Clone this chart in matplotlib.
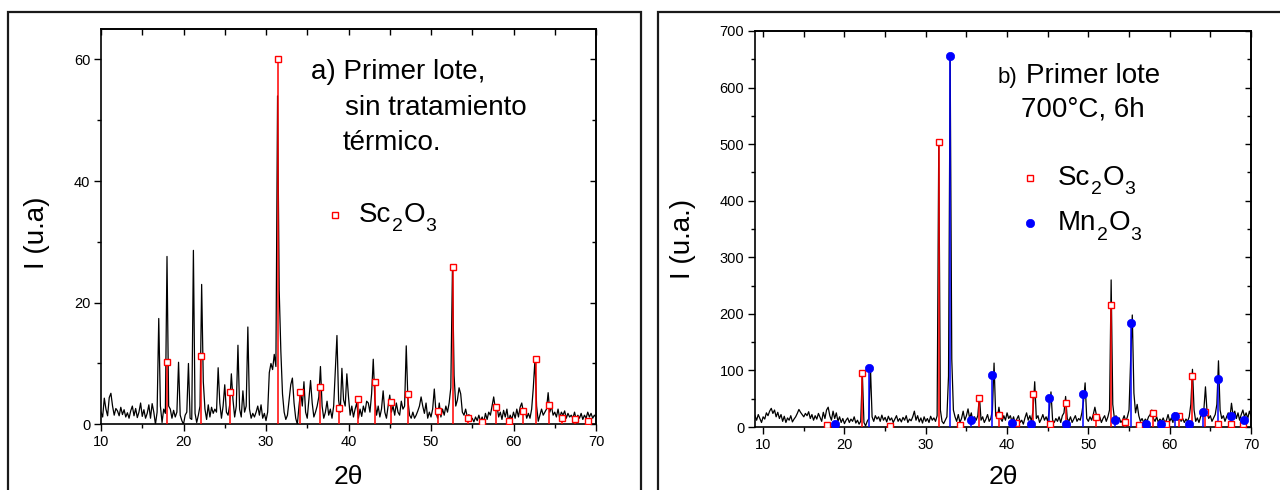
import numpy as np
import matplotlib
matplotlib.use("Agg")
import matplotlib.pyplot as plt
from matplotlib.ticker import MultipleLocator
from matplotlib.lines import Line2D
from matplotlib.patches import Rectangle

plt.rcParams['font.family'] = ['Liberation Sans', 'DejaVu Sans']

# ---------------- data ----------------
# (a) first batch, no heat treatment: diffractogram sampled every 0.2 deg from 10 to 70
a_start, a_step = 10.0, 0.2
a_intensity = [
    2.0, 1.2, 4.3, 2.5, 1.4, 4.4, 5.1, 3.0, 1.5, 2.6,
    2.2, 1.4, 2.8, 1.6, 2.4, 1.2, 1.9, 1.0, 2.2, 3.0,
    1.4, 2.6, 1.1, 2.0, 3.5, 1.3, 2.4, 1.0, 1.8, 3.2,
    1.0, 3.4, 2.0, 0.0, 2.0, 17.4, 3.0, 0.3, 2.5, 1.8,
    27.6, 3.0, 2.5, 1.0, 2.3, 1.2, 2.0, 10.2, 1.5, 0.6,
    0.0, 1.5, 2.0, 10.0, 1.0, 0.8, 28.6, 1.8, 0.3, 1.5,
    3.0, 23.0, 7.0, 2.5, 0.8, 3.2, 1.2, 2.8, 1.8, 2.5,
    2.0, 9.3, 3.5, 1.0, 3.0, 6.5, 2.0, 1.5, 3.2, 8.3,
    4.0, 1.2, 3.0, 13.0, 2.5, 1.2, 5.5, 2.0, 3.0, 16.0,
    2.5, 1.0, 1.8, 1.2, 2.0, 3.0, 1.5, 3.2, 1.0, 1.8,
    0.6, 2.0, 8.5, 10.0, 9.0, 11.5, 9.5, 54.0, 22.0, 12.0,
    5.0, 2.0, 0.8, 1.5, 4.0, 6.5, 7.6, 3.5, 1.0, 0.0,
    3.0, 5.5, 3.0, 7.0, 2.0, 1.0, 4.0, 7.2, 3.5, 1.2,
    2.0, 3.0, 4.5, 9.5, 3.0, 1.0, 2.0, 3.8, 1.5, 2.5,
    1.0, 3.0, 9.0, 14.6, 4.0, 2.0, 9.2, 4.0, 3.0, 8.3,
    4.5, 1.5, 3.0, 1.2, 2.5, 3.5, 1.0, 2.5, 1.3, 3.0,
    2.0, 3.8, 3.5, 2.0, 5.0, 10.7, 4.0, 1.5, 3.0, 1.2,
    2.5, 5.5, 2.0, 1.0, 3.0, 4.8, 2.0, 3.0, 1.5, 3.5,
    2.0, 1.5, 3.8, 2.5, 3.0, 12.9, 4.0, 1.5, 1.0, 2.0,
    1.0, 1.5, 2.2, 3.0, 4.5, 3.0, 1.8, 3.5, 1.0, 2.0,
    1.2, 2.5, 5.8, 2.0, 1.0, 3.5, 1.2, 2.5, 1.5, 3.0,
    2.0, 3.5, 6.0, 25.6, 8.0, 3.0, 4.0, 6.0, 5.0, 2.0,
    1.5, 2.5, 1.2, 1.6, 0.5, 1.0, 0.4, 1.2, 0.6, 1.5,
    0.5, 1.2, 0.3, 1.8, 0.8, 2.0, 1.5, 3.0, 4.5, 2.5,
    3.0, 1.2, 2.0, 0.8, 2.3, 1.2, 2.5, 0.5, 1.5, 0.8,
    2.0, 1.0, 2.5, 1.2, 2.8, 3.5, 2.0, 2.5, 1.0, 1.8,
    1.0, 2.5, 6.0, 10.6, 3.0, 0.5, 1.5, 2.5, 1.5, 2.0,
    2.5, 5.2, 2.0, 3.0, 1.5, 2.0, 1.2, 2.5, 1.0, 2.0,
    1.5, 2.2, 1.0, 1.8, 1.2, 1.5, 1.0, 2.0, 0.8, 1.5,
    1.0, 1.8, 0.8, 1.5, 1.0, 2.0, 1.2, 1.8, 1.0, 1.5,
    1.2,
]
a_sc_2theta = [18.0, 22.1, 25.6, 31.5, 34.15, 36.6, 38.9, 41.1, 43.2, 45.2, 47.2,
               50.9, 52.7, 54.5, 56.2, 57.9, 59.5, 61.1, 62.7, 64.3, 65.9, 67.4, 69.0]
a_sc_int = [10.2, 11.3, 5.35, 60.0, 5.35, 6.2, 2.6, 4.15, 6.9, 3.6, 5.0,
            2.2, 25.8, 1.1, 0.4, 2.9, 0.6, 2.2, 10.7, 3.2, 1.0, 0.9, 0.6]

# (b) first batch, 700 C for 6 h: sampled every 0.2 deg from 9 to 70
b_start, b_step = 9.0, 0.2
b_intensity = [
    20, 12, 22, 15, 8, 18, 14, 25, 20, 28,
    33, 24, 30, 18, 26, 15, 22, 10, 19, 8,
    16, 12, 20, 9, 14, 18, 24, 31, 26, 22,
    18, 24, 20, 27, 15, 22, 12, 20, 14, 24,
    17, 10, 26, 15, 30, 35, 20, 12, 28, 15,
    25, 10, 18, 8, 15, 6, 12, 16, 8, 14,
    10, 18, 7, 12, 5, 10, 95, 8, 2, 10,
    15, 105, 18, 10, 20, 14, 18, 10, 21, 12,
    17, 9, 19, 12, 16, 8, 14, 20, 10, 15,
    9, 17, 12, 20, 8, 14, 11, 18, 28, 12,
    20, 9, 16, 7, 18, 10, 15, 8, 19, 12,
    16, 10, 20, 503, 30, 10, 6, 12, 18, 90,
    656, 120, 30, 18, 10, 22, 8, 15, 28, 12,
    20, 32, 15, 25, 10, 18, 12, 20, 55, 12,
    18, 8, 14, 22, 10, 15, 30, 113, 20, 15,
    35, 15, 10, 20, 12, 25, 15, 20, 10, 18,
    6, 14, 20, 8, 12, 5, 16, 25, 12, 20,
    10, 30, 80, 15, 20, 8, 14, 22, 12, 18,
    10, 30, 62, 12, 8, 15, 10, 18, 8, 20,
    25, 54, 15, 10, 18, 8, 14, 20, 10, 15,
    12, 25, 45, 78, 15, 10, 18, 12, 22, 35,
    20, 12, 18, 8, 15, 20, 10, 18, 30, 260,
    40, 15, 20, 10, 16, 8, 12, 20, 10, 18,
    30, 120, 198, 60, 25, 40, 20, 10, 15, 8,
    14, 10, 18, 22, 30, 15, 10, 18, 8, 14,
    10, 16, 8, 12, 22, 10, 16, 8, 25, 18,
    12, 20, 10, 15, 8, 14, 10, 18, 40, 102,
    30, 10, 16, 8, 18, 25, 30, 71, 25, 15,
    20, 10, 16, 22, 40, 117, 30, 15, 20, 10,
    18, 25, 15, 42, 20, 28, 15, 25, 12, 22,
    30, 18, 25, 15, 28, 20,
]
b_sc_2theta = [17.9, 22.15, 25.6, 31.6, 34.2, 36.55, 38.95, 41.15, 43.2, 45.3, 47.2,
               50.95, 52.8, 54.5, 56.2, 57.95, 59.6, 61.2, 62.8, 64.4, 66.0, 67.6, 69.0]
b_sc_int = [3, 95, 2, 503, 4, 52, 22, 7, 58, 5, 42,
            18, 216, 9, 4, 24, 5, 19, 90, 27, 6, 6, 5]
b_mn_2theta = [18.8, 23.05, 32.95, 35.6, 38.2, 40.55, 42.9, 45.2, 47.3, 49.35,
               53.25, 55.25, 57.1, 58.9, 60.7, 62.4, 64.1, 65.9, 67.6, 69.2]
b_mn_int = [6, 105, 656, 13, 92, 7, 6, 52, 6, 59,
            13, 183, 6, 6, 20, 6, 27, 85, 19, 13]

# ---------------- figure ----------------
W, H = 1280, 490
fig = plt.figure(figsize=(W / 100, H / 100), dpi=100)
renderer = fig.canvas.get_renderer()


def fx(px):
    return px / W


def fy(py):
    return 1 - py / H


RED = '#ff0000'
BLUE = '#0000ff'
TICK_FS = 10.5


def style_axes(ax, xmajor, xminor, ymajor, yminor):
    for s in ax.spines.values():
        s.set_linewidth(1.2)
    ax.xaxis.set_major_locator(MultipleLocator(xmajor))
    ax.xaxis.set_minor_locator(MultipleLocator(xminor))
    ax.yaxis.set_major_locator(MultipleLocator(ymajor))
    ax.yaxis.set_minor_locator(MultipleLocator(yminor))
    ax.tick_params(which='major', direction='out', length=4.8, width=1.0,
                   labelsize=TICK_FS, pad=3)
    ax.tick_params(which='minor', direction='out', length=3.0, width=1.0)
    top = ax.secondary_xaxis('top')
    top.xaxis.set_major_locator(MultipleLocator(xmajor))
    top.xaxis.set_minor_locator(MultipleLocator(xminor))
    top.tick_params(which='both', direction='in', labeltop=False, width=1.0)
    top.tick_params(which='major', length=4.5)
    top.tick_params(which='minor', length=4.5)
    top.spines['top'].set_linewidth(1.2)
    right = ax.secondary_yaxis('right')
    right.yaxis.set_major_locator(MultipleLocator(ymajor))
    right.yaxis.set_minor_locator(MultipleLocator(yminor))
    right.tick_params(which='both', direction='in', labelright=False, width=1.0)
    right.tick_params(which='major', length=4.5)
    right.tick_params(which='minor', length=3.0)
    right.spines['right'].set_linewidth(1.2)


def formula(x_px, base_px, parts, size=20, sub_size=14, drop=9.5):
    """Write a chemical formula; parts alternate between element and subscript."""
    x = x_px
    for i, part in enumerate(parts):
        is_sub = i % 2 == 1
        t = fig.text(fx(x), fy(base_px + (drop if is_sub else 0)), part,
                     fontsize=sub_size if is_sub else size, va='baseline')
        x += t.get_window_extent(renderer).width + (0.5 if is_sub else 0.5)


# frames around each panel
for x0, x1 in [(8, 641), (658, 1292)]:
    fig.add_artist(Rectangle((fx(x0), fy(500)), fx(x1) - fx(x0), fy(12) - fy(500),
                             transform=fig.transFigure, fill=False,
                             lw=1.6, ec='#1a1a1a', clip_on=False))

# ---- panel (a) ----
axa = fig.add_axes([fx(101), fy(424.3), fx(596) - fx(101), fy(29) - fy(424.3)])
xa = a_start + a_step * np.arange(len(a_intensity))
axa.plot(xa, a_intensity, color='black', lw=0.9, zorder=2)
axa.vlines(a_sc_2theta, 0, a_sc_int, color=RED, lw=1.1, zorder=3)
axa.plot(a_sc_2theta, a_sc_int, ls='none', marker='s', ms=4.6, mfc='white',
         mec=RED, mew=1.0, zorder=4)
axa.set_xlim(10, 70)
axa.set_ylim(0, 65)
style_axes(axa, 10, 5, 20, 10)

fig.text(fx(36.7), fy(233), 'I (u.a)', rotation=90, fontsize=20,
         ha='center', va='center')
fig.text(fx(348), fy(477), '2θ', fontsize=19, ha='center', va='center')

fig.text(fx(311), fy(79.3), 'a) Primer lote,', fontsize=20, va='baseline')
fig.text(fx(345), fy(115), 'sin tratamiento', fontsize=20, va='baseline')
fig.text(fx(342.5), fy(150), 'térmico.', fontsize=20, va='baseline')
fig.add_artist(Line2D([fx(335.3)], [fy(215)], transform=fig.transFigure,
                      ls='none', marker='s', ms=4.6, mfc='white', mec=RED, mew=1.0))
formula(359, 221.7, ['Sc', '2', 'O', '3'])

# ---- panel (b) ----
axb = fig.add_axes([fx(755), fy(427), fx(1251) - fx(755), fy(31) - fy(427)])
xb = b_start + b_step * np.arange(len(b_intensity))
axb.plot(xb, b_intensity, color='black', lw=0.9, zorder=2)
axb.vlines(b_sc_2theta, 0, b_sc_int, color=RED, lw=1.1, zorder=3)
axb.vlines(b_mn_2theta, 0, b_mn_int, color=BLUE, lw=1.1, zorder=3)
axb.plot(b_sc_2theta, b_sc_int, ls='none', marker='s', ms=4.6, mfc='white',
         mec=RED, mew=1.0, zorder=4)
axb.plot(b_mn_2theta, b_mn_int, ls='none', marker='o', ms=6.0, mfc=BLUE,
         mec=BLUE, mew=0.5, zorder=5)
axb.set_xlim(9, 70)
axb.set_ylim(0, 700)
style_axes(axb, 10, 5, 100, 50)

fig.text(fx(683), fy(239), 'I (u.a.)', rotation=90, fontsize=20,
         ha='center', va='center')
fig.text(fx(1003), fy(477), '2θ', fontsize=19, ha='center', va='center')

fig.text(fx(998), fy(82.7), 'b)', fontsize=16, va='baseline')
fig.text(fx(1026), fy(82.7), 'Primer lote', fontsize=20, va='baseline')
fig.text(fx(1021), fy(116.7), '700°C, 6h', fontsize=20, va='baseline')
fig.add_artist(Line2D([fx(1030)], [fy(178.3)], transform=fig.transFigure,
                      ls='none', marker='s', ms=4.6, mfc='white', mec=RED, mew=1.0))
formula(1058, 185, ['Sc', '2', 'O', '3'])
fig.add_artist(Line2D([fx(1030)], [fy(223.3)], transform=fig.transFigure,
                      ls='none', marker='o', ms=6.0, mfc=BLUE, mec=BLUE, mew=0.5))
formula(1058, 230, ['Mn', '2', 'O', '3'])

fig.savefig('out.png', dpi=100)
